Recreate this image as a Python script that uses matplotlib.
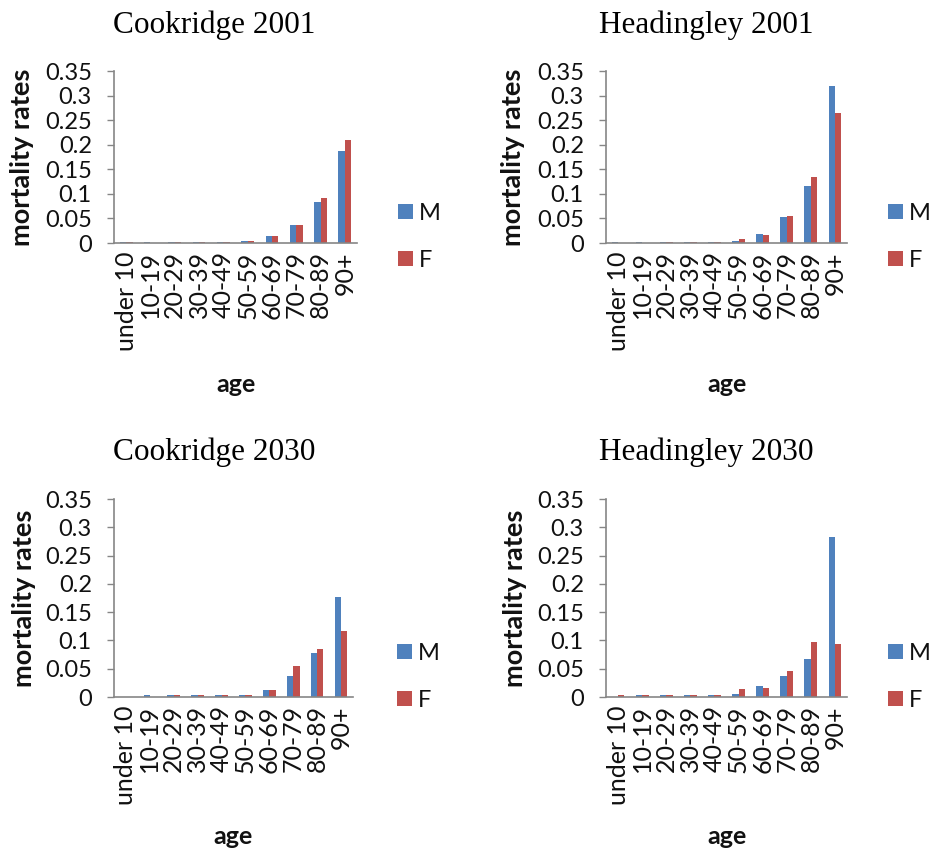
import numpy as np
import matplotlib
matplotlib.use("Agg")
import matplotlib.pyplot as plt
from matplotlib.patches import Patch

# Age bands
age_groups = ["under 10", "10-19", "20-29", "30-39", "40-49",
              "50-59", "60-69", "70-79", "80-89", "90+"]

# Mortality rates by sex
cookridge_2001_m = [0.003, 0.003, 0.003, 0.003, 0.003, 0.005, 0.0136, 0.037, 0.084, 0.187]
cookridge_2001_f = [0.003, 0.0,   0.003, 0.003, 0.003, 0.005, 0.0136, 0.037, 0.092, 0.210]

headingley_2001_m = [0.003, 0.003, 0.003, 0.003, 0.003, 0.005, 0.018, 0.052, 0.115, 0.320]
headingley_2001_f = [0.0,   0.0,   0.003, 0.003, 0.003, 0.008, 0.0156, 0.055, 0.134, 0.265]

cookridge_2030_m = [0.0, 0.003, 0.003, 0.003, 0.003, 0.003, 0.0124, 0.037, 0.078, 0.177]
cookridge_2030_f = [0.0, 0.0,   0.003, 0.003, 0.003, 0.003, 0.0124, 0.055, 0.084, 0.116]

headingley_2030_m = [0.0,   0.003, 0.003, 0.003, 0.003, 0.005, 0.019, 0.037, 0.0666, 0.283]
headingley_2030_f = [0.003, 0.003, 0.003, 0.003, 0.003, 0.014, 0.0165, 0.046, 0.098, 0.094]

y_ticks = [0, 0.05, 0.1, 0.15, 0.2, 0.25, 0.3, 0.35]
y_tick_labels = ["0", "0.05", "0.1", "0.15", "0.2", "0.25", "0.3", "0.35"]

COLOR_M = "#4F81BD"
COLOR_F = "#C0504D"
AXIS_GRAY = "#868686"
TEXT = "#111111"

W, H = 935, 850
fig = plt.figure(figsize=(W / 100, H / 100), dpi=100)
fig.patch.set_facecolor("white")

SANS = "Lato"
SERIF = "Liberation Serif"


def fx(x):
    return x / W


def fy(y):
    return 1 - y / H


panels = [
    # title, M, F, axes box (left, right, top, bottom px), title centre, legend left, legend rows, ylabel x, xlabel y
    ("Cookridge 2001", cookridge_2001_m, cookridge_2001_f, (114, 357, 71, 243), (214, 25), 398, (213, 261), 22, 384),
    ("Headingley 2001", headingley_2001_m, headingley_2001_f, (606, 847, 71, 243), (706, 25), 888, (213, 261), 513, 384),
    ("Cookridge 2030", cookridge_2030_m, cookridge_2030_f, (114, 353, 499, 697), (214, 452), 397, (653, 701), 24, 837),
    ("Headingley 2030", headingley_2030_m, headingley_2030_f, (606, 847, 499, 697), (706, 452), 888, (653, 701), 515, 837),
]

x = np.arange(len(age_groups))
bw = 0.265

for title, m_vals, f_vals, box, tpos, leg_x, leg_rows, ylab_x, xlab_y in panels:
    l, r, t, b = box
    ax = fig.add_axes([fx(l), fy(b), (r - l) / W, (b - t) / H])
    ax.bar(x - bw / 2, m_vals, bw, color=COLOR_M, linewidth=0)
    ax.bar(x + bw / 2, f_vals, bw, color=COLOR_F, linewidth=0)

    ax.set_xlim(-0.5, len(age_groups) - 0.5)
    ax.set_ylim(0, 0.35)
    ax.set_yticks(y_ticks)
    ax.set_yticklabels(y_tick_labels, fontfamily=SANS, fontsize=17, color=TEXT)
    ax.set_xticks(x)
    ax.set_xticklabels(age_groups, rotation=90, fontfamily=SANS, fontsize=18, color=TEXT)

    for side in ("top", "right"):
        ax.spines[side].set_visible(False)
    for side in ("left", "bottom"):
        ax.spines[side].set_color(AXIS_GRAY)
        ax.spines[side].set_linewidth(1.2)
    ax.tick_params(axis="y", direction="out", length=5, width=1, color=AXIS_GRAY, pad=11)
    ax.tick_params(axis="x", length=0, pad=6)

    ax.set_ylabel("mortality rates", fontfamily=SANS, fontweight="bold", fontsize=19.5, color=TEXT)
    ax.yaxis.set_label_coords(fx(ylab_x), fy((t + b) / 2), transform=fig.transFigure)
    ax.yaxis.label.set_verticalalignment("center")

    ax.set_xlabel("age", fontfamily=SANS, fontweight="bold", fontsize=18, color=TEXT)
    ax.xaxis.set_label_coords(fx((l + r) / 2), fy(xlab_y), transform=fig.transFigure)
    ax.xaxis.label.set_verticalalignment("center")

    fig.text(fx(tpos[0]), fy(tpos[1]), title, ha="center", va="center",
             fontfamily=SERIF, fontsize=22.5, color="black")

    handles = [Patch(facecolor=COLOR_M, linewidth=0, label="M"),
               Patch(facecolor=COLOR_F, linewidth=0, label="F")]
    leg = ax.legend(handles=handles, loc="center left",
                    bbox_to_anchor=(fx(leg_x), fy((leg_rows[0] + leg_rows[1]) / 2)),
                    bbox_transform=fig.transFigure, frameon=False, borderpad=0, borderaxespad=0,
                    handlelength=0.62, handleheight=0.62, handletextpad=0.25, labelspacing=1.1,
                    prop={"family": SANS, "size": 17})
    for txt in leg.get_texts():
        txt.set_color(TEXT)

fig.savefig("out.png", dpi=100, facecolor="white")
